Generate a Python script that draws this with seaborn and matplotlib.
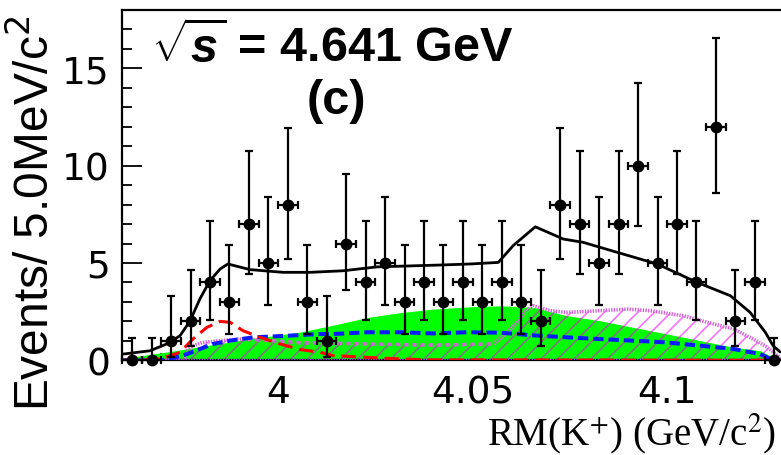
import matplotlib
matplotlib.use("Agg")
import matplotlib.pyplot as plt
from matplotlib.ticker import MultipleLocator
import numpy as np
import pandas as pd
import seaborn as sns

# ---------------- data ----------------
bin_centers = [3.9625, 3.9675, 3.9725, 3.9775, 3.9825, 3.9875, 3.9925, 3.9975,
               4.0025, 4.0075, 4.0125, 4.0175, 4.0225, 4.0275, 4.0325, 4.0375,
               4.0425, 4.0475, 4.0525, 4.0575, 4.0625, 4.0675, 4.0725, 4.0775,
               4.0825, 4.0875, 4.0925, 4.0975, 4.1025, 4.1075, 4.1125, 4.1175,
               4.1225, 4.1275]
counts = [0, 0, 1, 2, 4, 3, 7, 5, 8, 3, 1, 6, 4, 5, 3, 4, 3, 4, 3, 4, 3, 2,
          8, 7, 5, 7, 10, 5, 7, 4, 12, 2, 4, 0]
err_low = [0, 0, 0.83, 1.29, 1.91, 1.63, 2.58, 2.16, 2.77, 1.63, 0.83, 2.38,
           1.91, 2.16, 1.63, 1.91, 1.63, 1.91, 1.63, 1.91, 1.63, 1.29, 2.77,
           2.58, 2.16, 2.58, 3.11, 2.16, 2.58, 1.91, 3.41, 1.29, 1.91, 0]
err_high = [1.15, 1.15, 2.30, 2.64, 3.16, 2.92, 3.77, 3.38, 3.95, 2.92, 2.30,
            3.58, 3.16, 3.38, 2.92, 3.16, 2.92, 3.16, 2.92, 3.16, 2.92, 2.64,
            3.95, 3.77, 3.38, 3.77, 4.27, 3.38, 3.77, 3.16, 4.58, 2.64, 3.16, 1.15]
half_bin = 0.0025

# total fit (black)
fit_x = [3.9602, 3.9671, 3.9714, 3.9748, 3.9774, 3.9799, 3.9825, 3.9851, 3.9871,
         3.9928, 4.0013, 4.0082, 4.0167, 4.0254, 4.0339, 4.0424, 4.0494, 4.0566,
         4.0604, 4.0661, 4.0733, 4.0784, 4.0871, 4.0974, 4.1077, 4.1162, 4.1213,
         4.1252, 4.1272, 4.1290]
fit_y = [0.32, 0.49, 0.84, 1.26, 2.03, 3.15, 4.09, 4.69, 4.95, 4.66, 4.52, 4.52,
         4.60, 4.80, 4.85, 4.90, 4.95, 5.03, 5.89, 6.86, 6.23, 6.06, 5.55, 4.95,
         4.00, 3.32, 2.46, 1.44, 0.75, 0.43]

# green filled component
green_x = [3.9602, 3.9722, 3.9799, 3.9928, 4.0057, 4.0141, 4.0229, 4.0314,
           4.0398, 4.0494, 4.0571, 4.0656, 4.0743, 4.0828, 4.0913, 4.1000,
           4.1085, 4.1170, 4.1239, 4.1272, 4.1290]
green_y = [0.10, 0.45, 0.70, 1.10, 1.45, 1.80, 2.20, 2.45, 2.63, 2.75, 2.80,
           2.72, 2.29, 2.03, 1.69, 1.35, 1.01, 0.67, 0.49, 0.15, 0.0]

# magenta hatched component
mag_x = [3.9602, 3.9760, 3.9766, 3.9781, 3.9807, 3.9895, 3.9954, 4.0057, 4.0229,
         4.0398, 4.0553, 4.0589, 4.0614, 4.0635, 4.0656, 4.0699, 4.0743, 4.0828,
         4.0897, 4.0956, 4.1041, 4.1103, 4.1170, 4.1221, 4.1257, 4.1283, 4.1300]
mag_y = [0.0, 0.0, 0.49, 0.75, 0.92, 1.09, 1.05, 0.90, 0.84, 0.78, 0.84, 1.44,
         1.95, 2.50, 2.80, 2.55, 2.46, 2.55, 2.63, 2.55, 2.29, 1.95, 1.61, 1.09,
         0.67, 0.24, 0.0]

# blue dashed component
blue_x = [3.9602, 3.9697, 3.9722, 3.9766, 3.9799, 3.9833, 3.9877, 3.9936, 4.0023,
          4.0108, 4.0141, 4.0229, 4.0314, 4.0398, 4.0486, 4.0571, 4.0656, 4.0743,
          4.0828, 4.0913, 4.0997, 4.1085, 4.1170, 4.1239, 4.1265, 4.1290]
blue_y = [0.0, 0.0, 0.07, 0.32, 0.58, 0.84, 1.01, 1.18, 1.26, 1.35, 1.35, 1.44,
          1.44, 1.38, 1.44, 1.42, 1.28, 1.18, 1.09, 1.01, 0.92, 0.75, 0.58, 0.32,
          0.07, 0.0]

# red long-dashed component
red_x = [3.9602, 3.9697, 3.9748, 3.9781, 3.9817, 3.9851, 3.9877, 3.9910, 3.9954,
         4.0005, 4.0057, 4.0108, 4.0141, 4.0229, 4.0314, 4.0400, 4.1300]
red_y = [0.0, 0.07, 0.41, 1.09, 1.69, 2.00, 1.95, 1.52, 1.18, 0.84, 0.55, 0.41,
         0.24, 0.15, 0.07, 0.02, 0.0]

x_ticks = [4.0, 4.05, 4.1]
x_tick_labels = ["4", "4.05", "4.1"]
y_ticks = [0, 5, 10, 15]
y_tick_labels = ["0", "5", "10", "15"]

# ---------------- style ----------------
sns.set_theme(style="ticks")
plt.rcParams["font.family"] = ["Liberation Sans", "DejaVu Sans"]
plt.rcParams["mathtext.fontset"] = "custom"
plt.rcParams["mathtext.rm"] = "Liberation Sans"
plt.rcParams["mathtext.it"] = "Liberation Sans:italic:bold"
plt.rcParams["mathtext.bf"] = "Liberation Sans:bold"
plt.rcParams["lines.scale_dashes"] = False
plt.rcParams["hatch.linewidth"] = 1.2
for key in ["text.color", "axes.labelcolor", "xtick.color", "ytick.color",
            "axes.edgecolor"]:
    plt.rcParams[key] = "black"

W, H = 781, 456
fig = plt.figure(figsize=(W / 100, H / 100), dpi=100)
ax = fig.add_axes([122.4 / W, (H - 361.3) / H, (784.0 - 122.4) / W, (361.3 - 11.0) / H])

# green component
ax.fill_between(green_x, 0, green_y, color="#00ff00", linewidth=0, zorder=1)
# magenta hatched component
ax.fill_between(mag_x, 0, mag_y, facecolor="none", edgecolor=(0.95, 0.0, 0.95, 0.55),
                hatch="//", linewidth=0, zorder=2)

df_mag = pd.DataFrame({"x": mag_x, "y": mag_y})
sns.lineplot(data=df_mag, x="x", y="y", ax=ax, color="#d860dc", linewidth=2.6,
             linestyle=(0, (1.0, 0.9)), zorder=3)
ax.plot([3.96, 4.13], [0, 0], color="#a040e0", lw=2.4, linestyle=(0, (1.0, 0.9)), zorder=3)

df_blue = pd.DataFrame({"x": blue_x, "y": blue_y})
sns.lineplot(data=df_blue, x="x", y="y", ax=ax, color="#0a1aff", linewidth=2.9,
             linestyle=(0, (7.5, 3.5)), zorder=4)

df_red = pd.DataFrame({"x": red_x, "y": red_y})
sns.lineplot(data=df_red, x="x", y="y", ax=ax, color="#ff0000", linewidth=2.2,
             linestyle=(0, (10.5, 5.0)), zorder=5)

df_fit = pd.DataFrame({"x": fit_x, "y": fit_y})
sns.lineplot(data=df_fit, x="x", y="y", ax=ax, color="black", linewidth=2.0, zorder=6)

# data points
ax.errorbar(bin_centers, counts, yerr=[err_low, err_high], xerr=half_bin,
            fmt="o", color="black", markersize=7.5, elinewidth=1.6,
            capsize=3.0, capthick=1.6, zorder=10, clip_on=False)

# ---------------- axes ----------------
ax.set_xlim(3.96, 4.13)
ax.set_ylim(0, 18)
ax.set_xticks(x_ticks)
ax.set_xticklabels(x_tick_labels)
ax.xaxis.set_minor_locator(MultipleLocator(0.01))
ax.set_yticks(y_ticks)
ax.set_yticklabels(y_tick_labels)
ax.yaxis.set_minor_locator(MultipleLocator(1))
ax.tick_params(axis="y", which="major", direction="in", length=14.5, width=1.3,
               pad=9, labelsize=27, left=True, right=False, colors="black")
ax.tick_params(axis="y", which="minor", direction="in", length=7.2, width=1.3,
               left=True, right=False, colors="black")
ax.tick_params(axis="x", which="major", direction="in", length=10, width=1.3,
               pad=10, labelsize=27, bottom=True, top=False, colors="black")
ax.tick_params(axis="x", which="minor", direction="in", length=5, width=1.3,
               bottom=True, top=False, colors="black")
for lab in ax.get_xticklabels() + ax.get_yticklabels():
    lab.set_family("DejaVu Sans")
for s in ax.spines.values():
    s.set_linewidth(1.6)
    s.set_color("black")
ax.set_xlabel("")
ax.set_ylabel("")
ax.grid(False)

# axis titles
fig.text(35 / W, 1 - 15 / H, r"Events/ 5.0MeV/c$^{2}$", rotation=90,
         ha="center", va="top", fontsize=34.5, family="Liberation Sans",
         math_fontfamily="dejavusans")
fig.text(776 / W, 1 - 445 / H, r"RM(K$^{+}$) (GeV/c$^{2}$)", ha="right",
         va="baseline", fontsize=28, family="Liberation Serif",
         math_fontfamily="stix")

# annotations
fig.text(151 / W, 1 - 63 / H, r"$\sqrt{s}$ = 4.641 GeV", ha="left", va="baseline",
         fontsize=35, fontweight="bold", family="Liberation Sans")
fig.text(336 / W, 1 - 101 / H, "(c)", ha="center", va="center",
         fontsize=35, fontweight="bold", family="Liberation Sans")

fig.savefig("out.png", dpi=100)
